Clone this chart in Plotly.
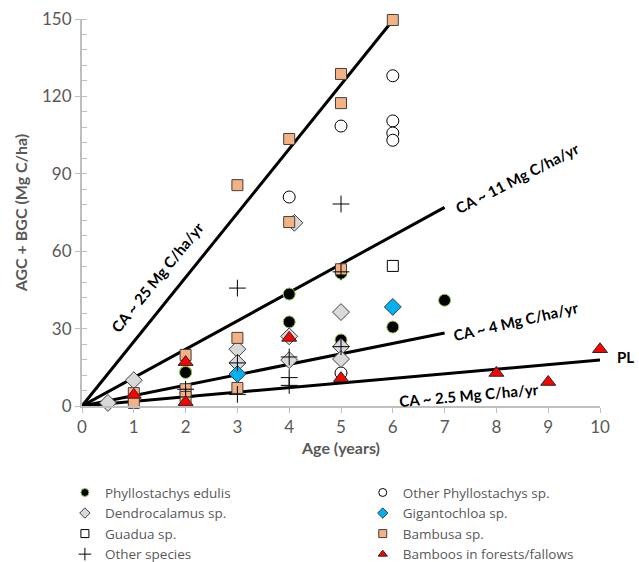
import plotly.graph_objects as go

# ---- data ----
edulis_x = [2, 2, 4, 4, 5, 5, 6, 7]
edulis_y = [13.2, 13.0, 43.4, 32.6, 51.5, 25.6, 30.6, 41.0]

other_phyllo_x = [4, 5, 5, 6, 6, 6, 6]
other_phyllo_y = [81.0, 108.5, 12.8, 128.0, 110.5, 105.8, 103.0]

dendro_x = [0.5, 1, 3, 3, 4, 4.1, 4, 5, 5, 5]
dendro_y = [1.2, 10.0, 22.0, 16.7, 27.0, 71.0, 17.8, 36.4, 23.0, 18.2]

giganto_x = [3, 6]
giganto_y = [12.4, 38.4]

guadua_x = [6]
guadua_y = [54.3]

bambusa_x = [1, 1, 2, 2, 2, 3, 3, 3, 4, 4, 5, 5, 5, 6]
bambusa_y = [5.0, 1.2, 19.8, 6.5, 3.5, 85.6, 26.4, 7.0, 103.5, 71.3, 128.7, 117.4, 53.0, 149.6]

other_sp_x = [2, 2, 3, 3, 3, 4, 4, 4, 5, 5, 5]
other_sp_y = [6.5, 3.5, 45.7, 16.7, 4.5, 19.0, 11.0, 8.0, 78.3, 52.0, 23.0]

forest_x = [1, 2, 2, 4, 5, 8, 9, 10]
forest_y = [4.3, 17.0, 1.5, 26.4, 10.8, 12.8, 9.3, 22.0]

# CA reference lines (start at origin)
ca_labels = ["CA ~ 25 Mg C/ha/yr", "CA ~ 11 Mg C/ha/yr", "CA ~ 4 Mg C/ha/yr", "CA ~ 2.5 Mg C/ha/yr"]
ca_x_end = [6, 7, 7, 10]
ca_y_end = [149.5, 77.0, 28.3, 17.8]
ca_label_x = [1.45, 8.4, 8.38, 7.47]
ca_label_y = [50.0, 88.5, 33.0, 4.3]
ca_label_angle = [-51, -27, -13, -5]

x_ticks = list(range(0, 11))
y_ticks = [0, 30, 60, 90, 120, 150]

FONT = "Lato, 'Open Sans', sans-serif"
LEG_FONT = "'Open Sans', sans-serif"
GREY = "#595959"

fig = go.Figure()

for xe, ye in zip(ca_x_end, ca_y_end):
    fig.add_trace(go.Scatter(x=[0, xe], y=[0, ye], mode="lines",
                             line=dict(color="black", width=3),
                             showlegend=False, hoverinfo="skip"))

def add(x, y, name, symbol, fill, edge, size, legend):
    fig.add_trace(go.Scatter(x=x, y=y, mode="markers", name=name, legendgroup=name,
                             showlegend=False, cliponaxis=False,
                             marker=dict(symbol=symbol, size=size, color=fill,
                                         line=dict(color=edge, width=1))))
    # small legend swatch, as in the reference
    fig.add_trace(go.Scatter(x=[None], y=[None], mode="markers", name=name, legendgroup=name,
                             showlegend=True, legend=legend,
                             marker=dict(symbol=symbol, size=8 if symbol != "cross-thin" else 9,
                                         color=fill, line=dict(color=edge, width=1))))

add(edulis_x, edulis_y, "Phyllostachys edulis", "circle", "black", "#92d050", 12, "legend")
add(other_phyllo_x, other_phyllo_y, "Other Phyllostachys sp.", "circle", "white", "black", 12, "legend2")
add(dendro_x, dendro_y, "Dendrocalamus sp.", "diamond", "#d9d9d9", "#404040", 13, "legend")
add(giganto_x, giganto_y, "Gigantochloa sp.", "diamond", "#00b0f0", "#404040", 13, "legend2")
add(guadua_x, guadua_y, "Guadua sp.", "square", "white", "black", 11, "legend")
add(bambusa_x, bambusa_y, "Bambusa sp.", "square", "#f4b183", "#404040", 11, "legend2")
add(other_sp_x, other_sp_y, "Other species", "cross-thin", "black", "black", 12, "legend")
add(forest_x, forest_y, "Bamboos in forests/fallows", "triangle-up", "#ff0000", "#262626", 13, "legend2")

for lab, lx, ly, ang in zip(ca_labels, ca_label_x, ca_label_y, ca_label_angle):
    fig.add_annotation(x=lx, y=ly, text="<b>" + lab + "</b>", textangle=ang,
                       showarrow=False, font=dict(family=FONT, size=15, color="black"))
fig.add_annotation(x=1.028, y=0.098, xref="paper", yref="paper", text="<b>PL</b>",
                   showarrow=False, xanchor="left",
                   font=dict(family=FONT, size=15, color="black"))

leg_common = dict(orientation="v", yanchor="top", xanchor="left", tracegroupgap=0,
                  itemsizing="trace", itemwidth=30, bgcolor="rgba(0,0,0,0)",
                  font=dict(family=LEG_FONT, size=13.5, color=GREY))

fig.update_layout(
    width=639, height=562,
    margin=dict(l=82, r=39, t=19, b=156, autoexpand=False),
    paper_bgcolor="white", plot_bgcolor="white",
    font=dict(family=FONT, color=GREY, size=13),
    showlegend=True,
    legend=dict(x=-0.033, y=-0.184, **leg_common),
    legend2=dict(x=0.542, y=-0.184, **leg_common),
    xaxis=dict(range=[0, 10], tickvals=x_ticks, showgrid=False, zeroline=False,
               showline=True, linecolor="#bfbfbf", linewidth=2, automargin=False,
               ticks="outside", ticklen=5, tickcolor="#bfbfbf",
               tickfont=dict(size=17, color=GREY),
               title=dict(text="<b>Age (years)</b>", font=dict(size=16, color=GREY), standoff=6)),
    yaxis=dict(range=[0, 150], tickvals=y_ticks, showgrid=False, zeroline=False,
               showline=True, linecolor="#bfbfbf", linewidth=2, automargin=False,
               ticks="outside", ticklen=5, tickcolor="#bfbfbf",
               minor=dict(dtick=6, ticks="inside", ticklen=5, tickcolor="#bfbfbf"),
               tickfont=dict(size=17, color=GREY),
               title=dict(text="<b>AGC + BGC (Mg C/ha)</b>", font=dict(size=16, color=GREY), standoff=10)),
)

fig.write_html("out.html", config={"displayModeBar": False},
               post_script="document.body.style.margin='0';")
